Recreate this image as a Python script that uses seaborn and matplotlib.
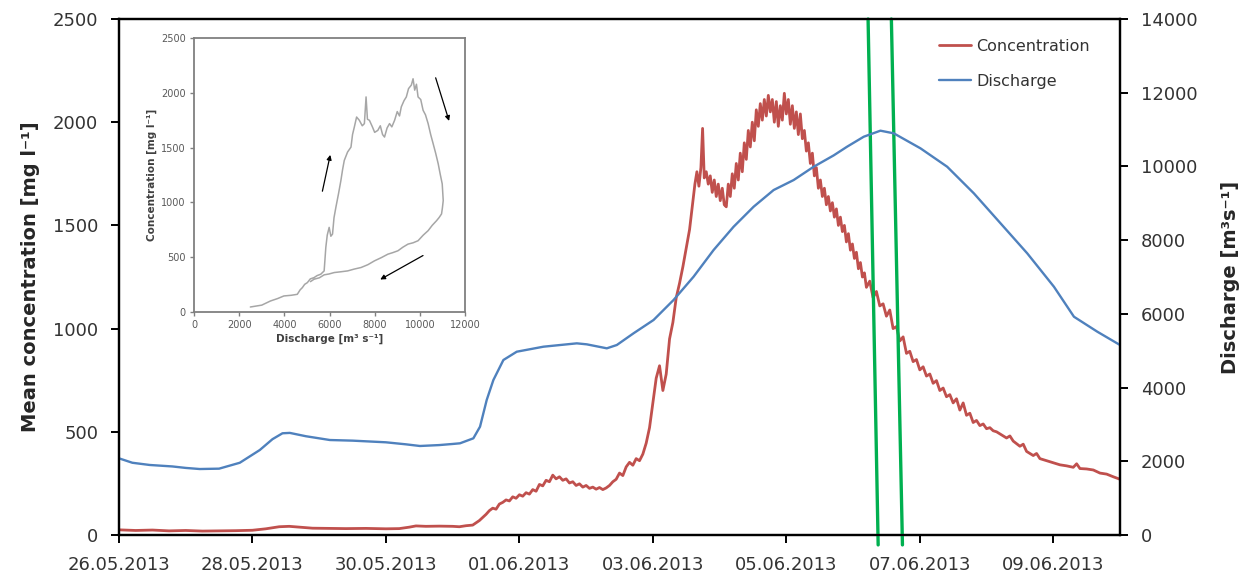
import pandas as pd
import seaborn as sns
import matplotlib.pyplot as plt

# days since 26.05.2013 00:00
conc_day = [0.0, 0.25, 0.5, 0.75, 1.0, 1.25, 1.5, 1.75, 2.0, 2.2, 2.4, 2.55, 2.7, 2.9, 3.1, 3.4, 3.7, 4.0, 4.2, 4.35,
            4.45, 4.6, 4.8, 5.0, 5.1, 5.2, 5.3, 5.4, 5.45, 5.5, 5.55, 5.6, 5.65, 5.7, 5.75, 5.8, 5.85, 5.9, 5.95, 6.0,
            6.05, 6.1, 6.15, 6.2, 6.25, 6.3, 6.35, 6.4, 6.45, 6.5, 6.55, 6.6, 6.65, 6.7, 6.75, 6.8, 6.85, 6.9, 6.95, 7.0,
            7.05, 7.1, 7.15, 7.2, 7.25, 7.3, 7.35, 7.4, 7.45, 7.5, 7.55, 7.6, 7.65, 7.7, 7.75, 7.8, 7.85, 7.9, 7.95, 8.0,
            8.05, 8.1, 8.15, 8.2, 8.25, 8.3, 8.35, 8.4, 8.45, 8.5, 8.55, 8.6, 8.63, 8.66, 8.69, 8.72, 8.745, 8.77, 8.8, 8.83,
            8.86, 8.89, 8.92, 8.95, 8.98, 9.01, 9.04, 9.07, 9.1, 9.13, 9.16, 9.19, 9.22, 9.25, 9.28, 9.31, 9.34, 9.37, 9.4, 9.43,
            9.46, 9.49, 9.52, 9.55, 9.58, 9.61, 9.64, 9.67, 9.7, 9.73, 9.76, 9.79, 9.82, 9.85, 9.88, 9.91, 9.94, 9.97, 10.0, 10.03,
            10.06, 10.09, 10.12, 10.15, 10.18, 10.21, 10.24, 10.27, 10.3, 10.33, 10.36, 10.39, 10.42, 10.45, 10.48, 10.51, 10.54, 10.57, 10.6, 10.63,
            10.66, 10.69, 10.72, 10.75, 10.78, 10.81, 10.84, 10.87, 10.9, 10.93, 10.96, 10.99, 11.02, 11.05, 11.08, 11.11, 11.14, 11.17, 11.2, 11.25,
            11.3, 11.35, 11.4, 11.45, 11.5, 11.55, 11.6, 11.65, 11.7, 11.75, 11.8, 11.85, 11.9, 11.95, 12.0, 12.05, 12.1, 12.15, 12.2, 12.25,
            12.3, 12.35, 12.4, 12.45, 12.5, 12.55, 12.6, 12.65, 12.7, 12.75, 12.8, 12.85, 12.9, 12.95, 13.0, 13.05, 13.1, 13.15, 13.2, 13.3,
            13.35, 13.4, 13.5, 13.55, 13.6, 13.7, 13.75, 13.8, 13.9, 14.0, 14.1, 14.2, 14.3, 14.35, 14.4, 14.5, 14.6, 14.7, 14.8, 14.9,
            15.0]
conc = [25, 22, 24, 20, 22, 19, 20, 21, 23, 30, 40, 42, 38, 33, 32, 31, 32, 30, 31, 38,
        44, 42, 43, 42, 40, 45, 48, 70, 85, 100, 118, 130, 125, 150, 158, 170, 165, 185, 178, 195,
        188, 205, 198, 220, 212, 245, 238, 265, 258, 290, 272, 282, 265, 272, 252, 258, 240, 248, 232, 240,
        226, 232, 222, 230, 220, 228, 240, 258, 270, 300, 288, 330, 352, 338, 370, 360, 392, 445, 520, 640,
        760, 820, 700, 780, 950, 1030, 1150, 1220, 1300, 1390, 1480, 1620, 1700, 1760, 1690, 1780, 1970, 1730, 1760, 1700,
        1740, 1660, 1720, 1640, 1700, 1620, 1680, 1600, 1590, 1700, 1640, 1750, 1680, 1800, 1720, 1850, 1760, 1900, 1820, 1960,
        1880, 2000, 1910, 2060, 1980, 2090, 2010, 2110, 2030, 2130, 2050, 2110, 2000, 2100, 1980, 2080, 2010, 2140, 2040, 2110,
        1990, 2080, 1970, 2050, 1940, 2040, 1920, 1960, 1860, 1900, 1800, 1850, 1740, 1780, 1680, 1720, 1640, 1680, 1600, 1640,
        1570, 1610, 1540, 1580, 1500, 1540, 1470, 1500, 1420, 1460, 1380, 1410, 1340, 1370, 1290, 1320, 1250, 1270, 1200, 1230,
        1150, 1180, 1110, 1120, 1060, 1090, 1000, 1010, 940, 960, 880, 890, 840, 850, 800, 815, 770, 780, 735, 748,
        700, 712, 670, 680, 640, 660, 605, 640, 580, 590, 545, 555, 530, 538, 515, 520, 505, 500, 490, 470,
        480, 455, 430, 440, 405, 385, 395, 370, 360, 350, 340, 335, 328, 345, 322, 320, 315, 300, 295, 282,
        270]

flow_day = [0.0, 0.2, 0.46, 0.8, 1.0, 1.21, 1.5, 1.81, 2.11, 2.3, 2.45, 2.56, 2.8, 3.16, 3.5, 4.0, 4.3, 4.51, 4.8, 5.0,
            5.11, 5.31, 5.41, 5.51, 5.61, 5.76, 5.96, 6.36, 6.86, 7.01, 7.31, 7.46, 7.71, 8.01, 8.31, 8.61, 8.91, 9.21, 9.51, 9.81,
            10.11, 10.41, 10.71, 10.91, 11.16, 11.41, 11.61, 12.01, 12.41, 12.81, 13.21, 13.61, 14.01, 14.31, 14.66, 15.0]
flow = [2080, 1960, 1900, 1860, 1820, 1790, 1800, 1960, 2306, 2600, 2760, 2770, 2680, 2577, 2560, 2515, 2460, 2415, 2440, 2470,
        2488, 2623, 2939, 3663, 4205, 4748, 4973, 5109, 5200, 5173, 5065, 5155, 5472, 5833, 6376, 7008, 7732, 8364, 8907, 9360,
        9631, 9992, 10300, 10535, 10806, 10970, 10898, 10491, 9992, 9270, 8456, 7642, 6736, 5922, 5516, 5155]

tick_labels = ['26.05.2013', '28.05.2013', '30.05.2013', '01.06.2013', '03.06.2013', '05.06.2013', '07.06.2013', '09.06.2013']

# the two green marker lines (day at top of the axes, day just below the x axis)
marker_top_day = [11.225, 11.574]
marker_bottom_day = [11.376, 11.74]

# inset: concentration against discharge
inset_q = [2495, 3000, 3386, 3700, 3980, 4300, 4574, 4700, 4797, 4900, 5020, 5150, 5317, 5450, 5614, 5763,
           5800, 5837, 5900, 5985, 6060, 6134, 6200, 6283, 6400, 6505, 6580, 6654, 6800, 6951, 7020, 7100, 7200, 7322,
           7450, 7545, 7619, 7680, 7768, 7900, 8000, 8139, 8250, 8350, 8436, 8550, 8659, 8760, 8882, 9000, 9100, 9179,
           9300, 9402, 9500, 9624, 9700, 9773, 9850, 9921, 10040, 10144, 10250, 10367, 10480, 10590, 10700, 10813, 10900,
           10991, 11036, 11000, 10961, 10850, 10739, 10550, 10367, 10150, 9921, 9700, 9476, 9250, 9030, 8800, 8585, 8300,
           7991, 7700, 7396, 7100, 6802, 6500, 6208, 5980, 5763, 5550, 5317, 5155]
inset_c = [43, 60, 98, 120, 144, 150, 159, 200, 220, 250, 266, 300, 312, 330, 343, 373,
           480, 588, 700, 771, 690, 710, 860, 955, 1080, 1200, 1300, 1383, 1460, 1505, 1620, 1689, 1780, 1750,
           1700, 1720, 1964, 1760, 1750, 1690, 1640, 1658, 1700, 1620, 1597, 1680, 1720, 1690, 1750, 1830, 1790, 1873,
           1930, 1964, 2040, 2072, 2130, 2026, 2080, 1964, 1940, 1842, 1800, 1720, 1620, 1536, 1450, 1353, 1260,
           1169, 1016, 950, 894, 860, 832, 790, 741, 700, 649, 630, 618, 590, 557, 540, 526, 495,
           465, 430, 404, 390, 373, 365, 358, 345, 337, 310, 297, 275]

red = '#C0504D'
blue = '#4F81BD'
green = '#00B050'
txt = '#333333'

sns.set_style("ticks")
plt.rcParams['font.family'] = ['DejaVu Sans']

start = pd.Timestamp('2013-05-26')
conc_time = start + pd.to_timedelta(conc_day, unit='D')
flow_time = start + pd.to_timedelta(flow_day, unit='D')
top_time = start + pd.to_timedelta(marker_top_day, unit='D')
bottom_time = start + pd.to_timedelta(marker_bottom_day, unit='D')

fig = plt.figure(figsize=(12.53, 5.8), dpi=100)
ax = fig.add_axes([119 / 1253, 45 / 580, 1001 / 1253, 516 / 580])
ax2 = ax.twinx()

sns.lineplot(x=conc_time, y=conc, ax=ax, color=red, lw=2.0, label='Concentration', legend=False)
sns.lineplot(x=flow_time, y=flow, ax=ax2, color=blue, lw=1.7, label='Discharge', legend=False)

ax.set_xlim(start, start + pd.Timedelta(days=15))
ax.set_ylim(0, 2500)
ax2.set_ylim(0, 14000)
ax.set_yticks(range(0, 2501, 500))
ax2.set_yticks(range(0, 14001, 2000))
ax.set_xticks(pd.to_datetime(tick_labels, format='%d.%m.%Y'))
ax.set_xticklabels(tick_labels)
ax.xaxis.label.set_visible(False)
ax2.xaxis.label.set_visible(False)

for a in (ax, ax2):
    for s in a.spines.values():
        s.set_color('black')
        s.set_linewidth(1.6)
    a.tick_params(colors='black', labelcolor=txt, labelsize=13, width=1.4, length=6, direction='out', pad=9)

ax.set_ylabel('Mean concentration [mg l⁻¹]', fontsize=14, fontweight='bold', labelpad=9)
ax2.set_ylabel('Discharge [m³s⁻¹]', fontsize=14, fontweight='bold', labelpad=17)

# green marker lines reaching slightly below the axis
for t0, t1 in zip(top_time, bottom_time):
    ax.plot([t0, t1], [2500, -48], color=green, lw=2.4, clip_on=False, zorder=5)

h1, l1 = ax.get_legend_handles_labels()
h2, l2 = ax2.get_legend_handles_labels()
leg = ax.legend(h1 + h2, l1 + l2, loc='upper left', bbox_to_anchor=(0.805, 0.99), frameon=False,
                fontsize=11.5, handlelength=2.0, handletextpad=0.3, labelspacing=1.25)
for t in leg.get_texts():
    t.set_color(txt)

# inset hysteresis plot
axin = fig.add_axes([194 / 1253, 268.3 / 580, 271 / 1253, 273.4 / 580])
sns.lineplot(x=inset_q, y=inset_c, ax=axin, sort=False, estimator=None, color='#a6a6a6', lw=1.1)
axin.set_xlim(0, 12000)
axin.set_ylim(0, 2500)
axin.set_xticks(range(0, 12001, 2000))
axin.set_yticks(range(0, 2501, 500))
for s in axin.spines.values():
    s.set_color('#808080')
    s.set_linewidth(1.3)
axin.tick_params(labelsize=7, labelcolor='#595959', colors='#808080', length=3, width=1, pad=3)
axin.set_xlabel('Discharge [m³ s⁻¹]', fontsize=7.5, fontweight='bold', color='#404040', labelpad=3)
axin.set_ylabel('Concentration [mg l⁻¹]', fontsize=7.5, fontweight='bold', color='#404040', labelpad=3)

arrow = dict(arrowstyle='-|>', color='black', lw=0.9, mutation_scale=7)
axin.annotate('', xy=(6060, 1459), xytext=(5659, 1077), arrowprops=arrow)
axin.annotate('', xy=(11332, 1720), xytext=(10664, 2163), arrowprops=arrow)
axin.annotate('', xy=(8139, 282), xytext=(10248, 526), arrowprops=arrow)

plt.savefig('out.png', dpi=100)
